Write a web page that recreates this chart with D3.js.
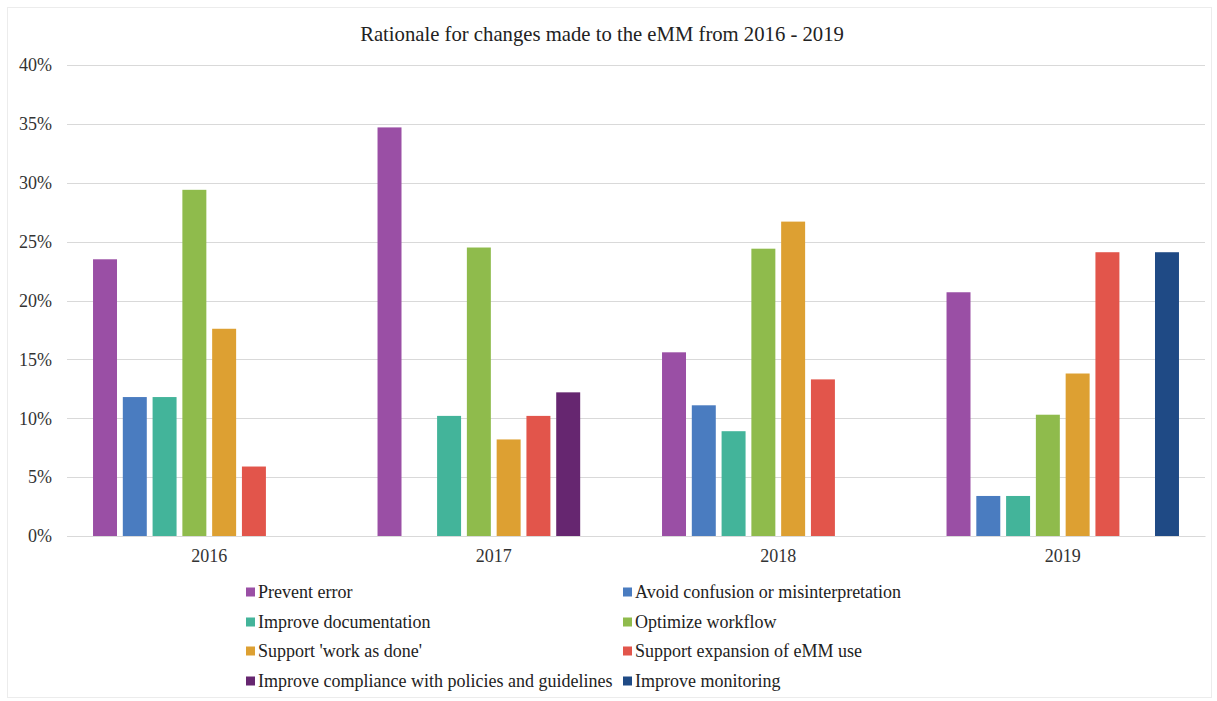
<!DOCTYPE html>
<html><head><meta charset="utf-8">
<script src="https://cdn.jsdelivr.net/npm/d3@7"></script>
<style>html,body{margin:0;padding:0;background:#fff;}svg{display:block;font-family:"Liberation Serif","Times New Roman",serif;}</style>
</head><body><svg id="c" width="1217" height="701"></svg>
<script>
const years = ["2016","2017","2018","2019"];
const seriesNames = ["Prevent error","Avoid confusion or misinterpretation","Improve documentation","Optimize workflow","Support 'work as done'","Support expansion of eMM use","Improve compliance with policies and guidelines","Improve monitoring"];
const seriesColors = ["#9a4fa5","#4a7cc0","#43b49a","#8fbb4c","#dda032","#e2554b","#662670","#1f4a85"];
const preventError = [23.5,34.7,15.6,20.7];
const avoidConfusion = [11.8,0,11.1,3.4];
const improveDocumentation = [11.8,10.2,8.9,3.4];
const optimizeWorkflow = [29.4,24.5,24.4,10.3];
const supportWorkAsDone = [17.6,8.2,26.7,13.8];
const supportExpansion = [5.9,10.2,13.3,24.1];
const improveCompliance = [0,12.2,0,0];
const improveMonitoring = [0,0,0,24.1];
const yTicks = [0,5,10,15,20,25,30,35,40];
const title = "Rationale for changes made to the eMM from 2016 - 2019";

const values = [preventError,avoidConfusion,improveDocumentation,optimizeWorkflow,supportWorkAsDone,supportExpansion,improveCompliance,improveMonitoring];

const svg = d3.select("#c");
svg.append("rect").attr("x",7.5).attr("y",7.5).attr("width",1204).attr("height",690).attr("fill","#fff").attr("stroke","#ececec");

const mLeft = 67, mRight = 1205, mTop = 65, mBottom = 536;
const y = d3.scaleLinear().domain([0,40]).range([mBottom, mTop]);
const x0 = d3.scaleBand().domain(years).range([mLeft,mRight]).paddingInner(0).paddingOuter(0);
const x1 = d3.scaleBand().domain(d3.range(seriesNames.length)).range([0,x0.bandwidth()]).paddingInner(0.195).paddingOuter(0.874);

// gridlines
svg.append("g").selectAll("line").data(yTicks).join("line")
  .attr("x1",mLeft).attr("x2",mRight).attr("y1",d=>Math.round(y(d))+0.5).attr("y2",d=>Math.round(y(d))+0.5)
  .attr("stroke","#d9d9d9").attr("stroke-width",1);

// y labels
const yAxis = d3.axisLeft(y).tickValues(yTicks).tickFormat(d=>d+"%").tickSize(0).tickPadding(0);
const ya = svg.append("g").attr("transform",`translate(52,0)`).call(yAxis);
ya.select(".domain").remove();
ya.selectAll("text").attr("font-family","Liberation Serif, serif").attr("font-size",18).attr("fill","#333");

// bars
const groups = svg.append("g").selectAll("g").data(years).join("g").attr("transform",d=>`translate(${x0(d)},0)`);
groups.selectAll("rect").data((d,i)=>values.map((s,j)=>({j, v:s[i]})).filter(e=>e.v>0)).join("rect")
  .attr("x",d=>x1(d.j)).attr("width",x1.bandwidth())
  .attr("y",d=>y(d.v)).attr("height",d=>y(0)-y(d.v))
  .attr("fill",d=>seriesColors[d.j]);

// x axis
const xAxis = d3.axisBottom(x0).tickSize(0).tickPadding(13);
const xa = svg.append("g").attr("transform",`translate(0,${mBottom})`).call(xAxis);
xa.select(".domain").attr("stroke","#d9d9d9");
xa.selectAll("text").attr("font-family","Liberation Serif, serif").attr("font-size",18).attr("fill","#333");

// title
svg.append("text").attr("x",602).attr("y",41).attr("text-anchor","middle")
  .attr("font-size",20.7).attr("fill","#222").text(title);

// legend
const legX = [246, 623], legY = [592, 622, 651, 681];
const leg = svg.append("g").selectAll("g").data(seriesNames).join("g")
  .attr("transform",(d,i)=>`translate(${legX[i%2]},${legY[Math.floor(i/2)]})`);
leg.append("rect").attr("x",0).attr("y",-4.5).attr("width",9).attr("height",9).attr("fill",(d,i)=>seriesColors[i]);
leg.append("text").attr("x",12).attr("y",0).attr("dy","0.35em").attr("font-size",18).attr("fill","#222").text(d=>d);
</script></body></html>
